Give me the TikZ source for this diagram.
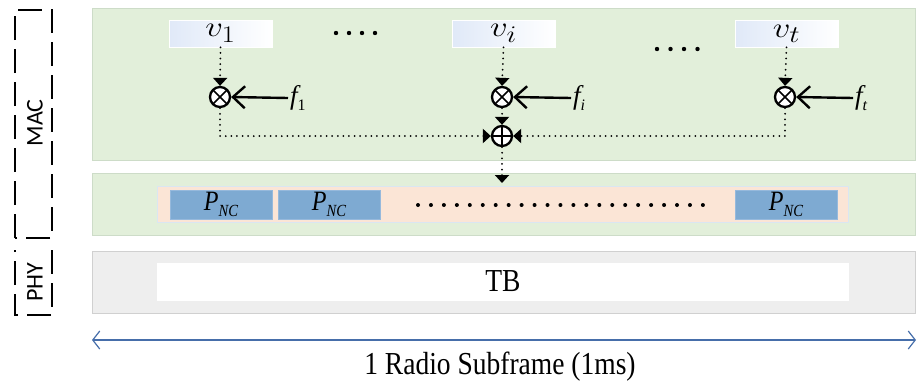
\documentclass[tikz,border=0pt]{standalone}
\usepackage{fix-cm}
\usepackage{fontspec}
\setmainfont{Liberation Serif}
\newfontfamily\narrowserif[FakeStretch=0.86]{Liberation Serif}
\newfontfamily\labelsans{Carlito}
\usetikzlibrary{arrows.meta}
\definecolor{macgreen}{RGB}{226,239,218}
\definecolor{macgreenedge}{RGB}{205,220,200}
\definecolor{peach}{RGB}{251,229,214}
\definecolor{peachedge}{RGB}{218,230,242}
\definecolor{pblue}{RGB}{126,170,210}
\definecolor{pblueedge}{RGB}{150,185,220}
\definecolor{phygrey}{RGB}{238,238,238}
\definecolor{phygreyedge}{RGB}{208,208,208}
\definecolor{vboxleft}{RGB}{224,233,248}
\definecolor{arrowblue}{RGB}{70,110,170}
\newcommand{\vlab}[1]{\scalebox{1.4}[1.15]{$v_{#1}$}}
\begin{document}
\begin{tikzpicture}[x=1pt,y=-1pt,
  layerbox/.style={draw=macgreenedge, fill=macgreen, line width=0.8pt, inner sep=0pt},
  vbox/.style={draw=white, line width=0.6pt, left color=vboxleft, right color=white, minimum width=103pt, minimum height=27pt, inner sep=0pt, font=\fontsize{24.88}{28}\selectfont},
  pbox/.style={draw=pblueedge, fill=pblue, line width=0.6pt, minimum width=102pt, minimum height=29pt, inner sep=0pt},
  dotline/.style={line width=2pt, line cap=round, dash pattern=on 0pt off 5.6pt},
  tri/.style={-{Triangle[width=14pt,length=8pt]}},
  bracket/.style={line width=2.6pt, dash pattern=on 24pt off 9pt},
  otimesnode/.style={circle, draw, line width=2.3pt, minimum size=20pt, inner sep=0pt, fill=white,
    path picture={\draw[line width=1.7pt] (path picture bounding box.north west) -- (path picture bounding box.south east)
      (path picture bounding box.south west) -- (path picture bounding box.north east);}},
  oplusnode/.style={circle, draw, line width=2.3pt, minimum size=20pt, inner sep=0pt, fill=white,
    path picture={\draw[line width=1.7pt] (path picture bounding box.north) -- (path picture bounding box.south)
      (path picture bounding box.west) -- (path picture bounding box.east);}},
  farrow/.style={line width=2.4pt, -{Straight Barb[length=12pt,width=22pt]}},
  flabel/.style={anchor=west, inner sep=2pt, font=\fontsize{27}{30}\selectfont\itshape},
  bigdot/.style={fill, circle, inner sep=0pt, minimum size=4.4pt}
]
\useasboundingbox (0,0) rectangle (917,381);

% layer boxes
\draw[layerbox] (92,8) rectangle (915,160);
\draw[layerbox] (92,173) rectangle (915,235);
\draw[draw=peachedge, fill=peach, line width=1pt] (157,186) rectangle (848,222);
\draw[draw=phygreyedge, fill=phygrey, line width=0.8pt] (92,251) rectangle (915,313);
\node[draw=white, fill=white, minimum width=691pt, minimum height=37pt, inner sep=0pt] (tb) at (502.5,281.5) {};
\node[anchor=base, font=\narrowserif\fontsize{32}{36}\selectfont, inner sep=0pt] (tbtext) at (503,291) {TB};

% brackets
\draw[bracket] (15,238) -- (15,10) -- (52,10) -- (52,238) -- cycle;
\draw[bracket] (52,250) -- (52,315) -- (15,315) -- (15,250);
\node[rotate=90, font=\labelsans\fontsize{24}{26}\selectfont] (mac) at (35,123) {MAC};
\node[rotate=90, font=\labelsans\fontsize{24}{26}\selectfont] (phy) at (35,282) {PHY};

% v boxes
\node[vbox] (v1) at (220.5,33.5) {\vlab{1}};
\node[vbox] (vi) at (503.5,33.5) {\vlab{i}};
\node[vbox] (vt) at (786.5,33.5) {\vlab{t}};
\foreach \i in {0,...,3} {
  \node[bigdot] at (336+13*\i,33) {};
  \node[bigdot] at (657+13.5*\i,49) {};
}

% multipliers
\node[otimesnode] (m1) at (220,97) {};
\node[otimesnode] (mi) at (502,97) {};
\node[otimesnode] (mt) at (785,97) {};
\node[oplusnode] (sum) at (502,136) {};

\draw[dotline,tri] (v1.south) -- (m1.north);
\draw[dotline,tri] (vi.south) -- (mi.north);
\draw[dotline,tri] (vt.south) -- (mt.north);
\draw[dotline,tri] (m1.south) |- (sum.west);
\draw[dotline,tri] (mt.south) |- (sum.east);
\draw[dotline,tri] (mi.south) -- (sum.north);
\coordinate (pin) at (502,183);
\draw[dotline,tri] (sum.south) -- (pin);

% f inputs
\node[flabel] (f1) at (288,98) {f\raisebox{-6pt}{\fontsize{16}{16}\selectfont\upshape 1}};
\node[flabel] (fi) at (571,98) {f\raisebox{-6pt}{\fontsize{16}{16}\selectfont i}};
\node[flabel] (ft) at (853,98) {f\raisebox{-6pt}{\fontsize{16}{16}\selectfont t}};
\draw[farrow] (f1.west) -- (m1.east);
\draw[farrow] (fi.west) -- (mi.east);
\draw[farrow] (ft.west) -- (mt.east);

% P_NC boxes
\node[pbox] (p1) at (221,204.5) {};
\node[pbox] (p2) at (329,204.5) {};
\node[pbox] (p3) at (786,204.5) {};
\foreach \n in {p1,p2,p3} {
  \node[anchor=base, inner sep=0pt, font=\narrowserif\fontsize{28}{30}\selectfont\itshape] at ([yshift=-6pt]\n.center) {P\raisebox{-6pt}{\fontsize{17}{17}\selectfont NC}};
}
\foreach \i in {0,...,22} {
  \node[bigdot, minimum size=4pt] at (418+12.95*\i,205) {};
}

% subframe arrow
\coordinate (aL) at (92,340);
\coordinate (aR) at (916,340);
\draw[arrowblue, line width=1.2pt, {Straight Barb[length=7pt,width=18pt]}-{Straight Barb[length=7pt,width=18pt]}] (aL) -- (aR);
\node[anchor=base, inner sep=0pt, font=\narrowserif\fontsize{32}{36}\selectfont] (sf) at (500,374) {1 Radio Subframe (1ms)};
\end{tikzpicture}
\end{document}
